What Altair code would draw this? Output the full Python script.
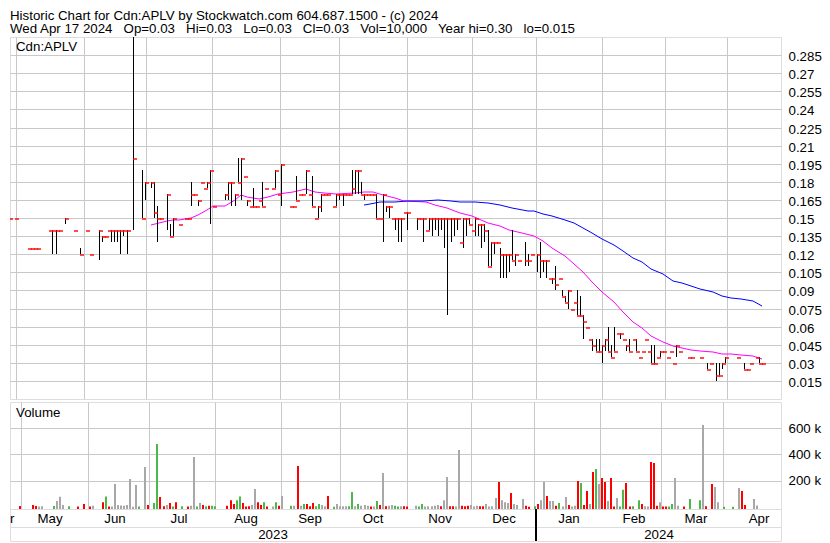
import altair as alt
import pandas as pd

FONT = "Liberation Sans, Arial, sans-serif"
NB = "\u00a0"
GRID = "#c8c8c8"

# ---------------- text ----------------
title_line1 = "Historic Chart for Cdn:APLV by Stockwatch.com 604.687.1500 - (c) 2024"
title_parts2 = ["Wed Apr 17 2024", "Op=0.03", "Hi=0.03", "Lo=0.03", "Cl=0.03",
                "Vol=10,000", "Year hi=0.30", "lo=0.015"]
symbol_label = "Cdn:APLV"
volume_label = "Volume"

# ---------------- price data (trading-day index) ----------------
price_day = [-2, 0, 4, 5, 6, 7, 11, 12, 13, 14, 16, 19, 21, 23, 24, 27, 28, 29, 30, 31,
             32, 33, 34, 35, 36, 38, 41, 42, 44, 45, 46, 47, 49, 50, 51, 53, 55, 56, 57, 58,
             59, 60, 61, 62, 63, 64, 68, 69, 70, 71, 72, 73, 74, 75, 76, 77, 78, 79, 80, 81,
             83, 84, 85, 86, 89, 90, 91, 92, 93, 94, 95, 96, 97, 98, 99, 100, 101, 103, 104, 105,
             106, 107, 108, 109, 110, 111, 112, 113, 114, 115, 116, 117, 118, 119, 120, 121, 122, 123, 124, 125,
             126, 127, 130, 131, 132, 133, 134, 135, 136, 137, 138, 139, 140, 141, 142, 143, 144, 145, 146, 147,
             148, 149, 150, 151, 152, 153, 154, 155, 156, 157, 158, 159, 160, 161, 162, 163, 165, 166, 167, 169,
             170, 171, 172, 173, 174, 175, 176, 177, 178, 179, 180, 181, 182, 183, 184, 185, 186, 187, 188, 189,
             190, 191, 192, 193, 194, 195, 196, 197, 198, 199, 200, 201, 202, 203, 204, 205, 206, 207, 208, 209,
             210, 211, 212, 213, 214, 215, 218, 219, 222, 224, 225, 227, 228, 229, 230, 234, 236, 237, 238, 240,
             241, 242]
price_high = [.15, .15, .125, .125, .125, .125, .14, .14, .14, .14, .15, .14, .125, .14, .12, .14, .135, .135, .14, .14,
              .14, .14, .14, .14, .14, .30, .19, .18, .18, .18, .16, .15, .17, .145, .15, .145, .15, .15, .18, .17,
              .165, .18, .175, .18, .19, .16, .17, .18, .18, .17, .20, .20, .185, .165, .16, .175, .16, .165, .18, .175,
              .175, .19, .17, .195, .16, .16, .185, .17, .17, .19, .17, .185, .15, .16, .17, .17, .17, .16, .17, .17,
              .17, .17, .17, .19, .19, .19, .18, .17, .17, .17, .17, .17, .15, .17, .16, .16, .15, .15, .15, .15,
              .155, .155, .15, .15, .15, .14, .15, .15, .15, .15, .15, .15, .15, .15, .15, .15, .13, .15, .15, .15,
              .14, .15, .145, .145, .145, .14, .13, .13, .13, .125, .12, .12, .12, .14, .12, .115, .13, .12, .12, .12,
              .13, .115, .115, .10, .10, .11, .10, .09, .085, .09, .075, .08, .09, .085, .07, .06, .05, .05, .05, .05,
              .045, .05, .06, .045, .06, .055, .055, .05, .045, .05, .05, .05, .035, .04, .05, .04, .045, .045, .035, .04,
              .04, .035, .04, .03, .045, .04, .035, .035, .035, .03, .03, .03, .03, .03, .035, .035, .03, .025, .03, .035,
              .035, .03]
price_low = [.15, .15, .125, .125, .125, .125, .14, .12, .12, .14, .145, .14, .12, .14, .12, .115, .13, .135, .14, .13,
             .13, .13, .12, .135, .12, .14, .15, .165, .175, .15, .13, .15, .14, .135, .135, .145, .15, .15, .16, .17,
             .16, .18, .175, .175, .145, .16, .165, .165, .16, .16, .18, .165, .185, .16, .16, .16, .16, .165, .16, .175,
             .175, .175, .17, .16, .16, .16, .165, .17, .17, .17, .17, .16, .15, .15, .155, .17, .17, .16, .16, .165,
             .16, .17, .17, .17, .17, .17, .17, .165, .17, .17, .17, .15, .15, .13, .155, .15, .15, .14, .13, .13,
             .155, .14, .14, .15, .13, .14, .14, .135, .14, .135, .14, .125, .07, .13, .135, .14, .13, .125, .135, .145,
             .14, .135, .135, .125, .13, .11, .11, .12, .13, .10, .10, .10, .105, .115, .11, .115, .11, .11, .12, .105,
             .10, .105, .10, .10, .095, .09, .10, .085, .08, .075, .075, .08, .07, .07, .05, .06, .05, .04, .04, .04,
             .03, .04, .04, .035, .04, .055, .05, .05, .04, .04, .05, .04, .035, .04, .05, .04, .03, .03, .035, .035,
             .04, .035, .04, .03, .035, .04, .035, .035, .035, .025, .03, .015, .02, .025, .03, .035, .025, .025, .03, .035,
             .03, .03]
price_close = [.15, .15, .125, .125, .125, .125, .14, .14, .14, .14, .15, .14, .12, .14, .12, .14, .135, .135, .14, .14,
               .14, .14, .14, .14, .14, .20, .15, .18, .18, .155, .15, .15, .17, .135, .15, .145, .15, .15, .17, .17,
               .165, .18, .175, .18, .19, .16, .17, .18, .18, .17, .18, .20, .185, .165, .16, .16, .16, .165, .16, .175,
               .175, .19, .17, .195, .16, .16, .165, .17, .17, .19, .17, .16, .15, .16, .17, .17, .17, .16, .17, .17,
               .17, .17, .17, .175, .19, .19, .17, .17, .17, .17, .17, .15, .15, .17, .16, .16, .15, .15, .15, .15,
               .155, .155, .15, .15, .15, .14, .15, .15, .15, .15, .15, .15, .15, .15, .15, .15, .13, .15, .15, .145,
               .14, .15, .145, .145, .14, .11, .13, .13, .13, .12, .12, .12, .12, .115, .12, .115, .115, .115, .12, .12,
               .115, .115, .115, .10, .10, .095, .10, .085, .08, .09, .075, .08, .07, .07, .065, .06, .05, .045, .04, .04,
               .045, .05, .04, .035, .04, .055, .055, .05, .045, .04, .05, .04, .035, .04, .05, .04, .03, .03, .035, .04,
               .04, .035, .04, .03, .045, .04, .035, .035, .035, .025, .03, .02, .02, .03, .035, .035, .025, .025, .03, .035,
               .03, .03]

# ---------------- moving averages ----------------
ma_fast_day = [44, 49, 51, 53, 55, 57, 59, 62, 64, 68, 71, 73, 75, 77, 79, 82, 85, 90, 94, 97,
               100, 104, 110, 113, 116, 119, 123, 126, 133, 136, 140, 144, 148, 153, 157, 160, 164, 168, 171, 174,
               178, 181, 184, 187, 190, 194, 197, 200, 203, 206, 210, 213, 216, 219, 222, 226, 229, 232, 235, 239, 242]
ma_fast_val = [0.1446, 0.1473, 0.148, 0.148, 0.1495, 0.150, 0.1527, 0.1568, 0.160, 0.160,
               0.165, 0.169, 0.1676, 0.1662, 0.1657, 0.1676, 0.170, 0.1718, 0.1743, 0.1718,
               0.1705, 0.170, 0.1705, 0.1718, 0.1718, 0.169, 0.1664, 0.1645, 0.1636, 0.1609,
               0.1582, 0.1541, 0.1514, 0.1459, 0.1432, 0.1399, 0.1377, 0.135, 0.131, 0.1255,
               0.1186, 0.112, 0.105, 0.097, 0.089, 0.0805, 0.0723, 0.064, 0.0586, 0.0524,
               0.047, 0.044, 0.042, 0.0405, 0.040, 0.0388, 0.0377, 0.0375, 0.0367, 0.0353, 0.0334]
ma_slow_day = [113, 115, 118, 123, 127, 132, 137, 141, 144, 149, 153, 157, 161, 166, 168, 171, 174, 178, 181, 184,
               187, 190, 194, 197, 200, 203, 206, 210, 213, 216, 219, 222, 226, 229, 232, 235, 239, 242]
ma_slow_val = [0.1604, 0.1615, 0.163, 0.1636, 0.164, 0.1645, 0.165, 0.1645, 0.1634, 0.163,
               0.1627, 0.161, 0.158, 0.156, 0.1555, 0.153, 0.1513, 0.1487, 0.1455, 0.142,
               0.1377, 0.1325, 0.128, 0.1227, 0.117, 0.1132, 0.108, 0.1036, 0.098, 0.096,
               0.0935, 0.0914, 0.0886, 0.0853, 0.0837, 0.083, 0.081, 0.077]

# ---------------- volume (thousands of shares) ----------------
vol_day = [0, 4, 5, 6, 7, 11, 12, 13, 14, 16, 19, 21, 23, 24, 27, 28, 29, 30, 31, 32,
           33, 34, 35, 36, 37, 38, 39, 41, 42, 44, 45, 46, 47, 48, 49, 50, 51, 53, 55, 56,
           57, 58, 59, 60, 61, 62, 63, 64, 68, 69, 70, 71, 72, 73, 74, 75, 76, 77, 78, 79,
           80, 81, 83, 84, 85, 86, 89, 90, 91, 92, 93, 94, 95, 96, 97, 98, 99, 100, 101, 103,
           104, 105, 106, 107, 108, 109, 110, 111, 112, 113, 114, 115, 116, 117, 118, 119, 120, 121, 122, 123,
           124, 125, 126, 127, 130, 131, 132, 133, 134, 135, 136, 137, 138, 139, 140, 141, 142, 143, 144, 145,
           146, 147, 148, 149, 150, 151, 152, 153, 154, 155, 156, 157, 158, 159, 160, 161, 162, 163, 165, 166,
           167, 169, 170, 171, 172, 173, 174, 175, 176, 177, 178, 179, 180, 181, 182, 183, 184, 185, 186, 187,
           188, 189, 190, 191, 192, 193, 194, 195, 196, 197, 198, 199, 200, 201, 203, 204, 205, 206, 207, 208,
           209, 210, 211, 212, 213, 214, 215, 216, 218, 220, 223, 224, 225, 227, 228, 229, 231, 234, 236, 237,
           238, 241, 242]
vol_k = [7, 14, 6, 3, 5, 7, 45, 78, 14, 5, 3, 22, 3, 8, 35, 80, 3, 3, 175, 14,
         10, 8, 14, 213, 2, 167, 3, 305, 14, 30, 480, 75, 5, 14, 30, 3, 35, 5, 3, 8,
         381, 3, 30, 14, 5, 8, 8, 5, 8, 50, 22, 50, 80, 30, 3, 5, 14, 137, 35, 14,
         35, 3, 3, 35, 8, 84, 8, 8, 312, 8, 22, 22, 5, 30, 5, 22, 14, 5, 84, 2,
         22, 5, 5, 5, 5, 114, 5, 22, 8, 14, 8, 3, 3, 45, 14, 259, 5, 8, 14, 8,
         3, 5, 5, 3, 8, 3, 22, 3, 5, 5, 8, 14, 5, 50, 228, 5, 5, 3, 434, 8,
         5, 8, 14, 3, 8, 5, 5, 22, 3, 5, 68, 190, 50, 35, 30, 106, 22, 14, 61, 8,
         2, 5, 22, 50, 190, 84, 45, 45, 8, 30, 3, 75, 14, 3, 8, 197, 182, 14, 121, 22,
         266, 289, 174, 220, 190, 45, 220, 3, 68, 3, 130, 182, 3, 5, 50, 22, 5, 3, 343, 335,
         8, 35, 3, 3, 3, 22, 220, 8, 3, 61, 50, 625, 5, 174, 151, 35, 2, 2, 144, 121,
         14, 61, 10]
vol_dir = list("dddnn" "unnnudddnd" "udnnnn" "nnnnnunduu" "ddndudu" "dnnundudu" "uddduuddd"
               "nnddudnud" "nundnuddduunn" "d" "unnnnuunun" "nndnudndnn" "uunddnuunn"
               "nnndnnddnn" "dddnnnddnn" "nndnnndnnn" "ddudnndnnd" "unndnndudd" "ndund" "dndd"
               "nuudduudnnd" "ddndduunnd" "uunddnnuu" "nddnndudndnu" "dnnd" "udnn")

# ---------------- axis / label data ----------------
price_ticks = [0.015, 0.03, 0.045, 0.06, 0.075, 0.09, 0.105, 0.12, 0.135, 0.15,
               0.165, 0.18, 0.195, 0.21, 0.225, 0.24, 0.255, 0.27, 0.285]
volume_ticks = [200000, 400000, 600000]
month_starts = [0.2, 22.3, 42.3, 63.8, 85.7, 105.0, 126.8, 148.1, 168.7, 190.2, 210.5, 230.7]
month_names = ["Apr", "May", "Jun", "Jul", "Aug", "Sep", "Oct", "Nov", "Dec", "Jan", "Feb", "Mar", "Apr"]
month_mid = [-3.7, 11.25, 32.3, 53.05, 74.75, 95.35, 115.9, 137.45, 158.4, 179.45, 200.35, 220.6, 240.9]
year_names = ["2023", "2024"]
year_mid = [83.5, 208.4]
year_break = [168.7]
X_DOMAIN = [-1.77, 248.1]

# ---------------- build ----------------
n = min(len(vol_day), len(vol_k), len(vol_dir))
W = 771
LBL = dict(labelFont=FONT, labelFontSize=13.3, labelColor="black")
xs = alt.Scale(domain=X_DOMAIN, nice=False, zero=False, round=True)
xgrid = alt.Axis(values=month_starts, grid=True, gridColor=GRID, gridWidth=1, labels=False,
                 ticks=False, domain=False, title=None, minExtent=0, maxExtent=0, offset=0,
                 labelPadding=0)

price_df = pd.DataFrame({"day": price_day, "high": price_high, "low": price_low, "close": price_close})
ma_df = pd.concat([
    pd.DataFrame({"day": ma_fast_day, "value": ma_fast_val, "series": "fast"}),
    pd.DataFrame({"day": ma_slow_day, "value": ma_slow_val, "series": "slow"}),
])
vol_df = pd.DataFrame({"day": vol_day[:n], "volume": [v * 1000 for v in vol_k[:n]], "dir": vol_dir[:n]})

ys = alt.Scale(domain=[0, 0.3], nice=False, zero=False, round=True)
yaxis = alt.Axis(orient="right", values=price_ticks, format=".3~f", grid=True, gridColor=GRID,
                 ticks=False, domain=False, labelPadding=7, labelOffset=1, labelOverlap=False,
                 labelBound=False, title=None, **LBL)

ma = alt.Chart(ma_df).mark_line(strokeWidth=1, clip=True).encode(
    x=alt.X("day:Q", scale=xs, axis=xgrid),
    y=alt.Y("value:Q", scale=ys, axis=yaxis),
    color=alt.Color("series:N", scale=alt.Scale(domain=["fast", "slow"], range=["#ff00ff", "#0000ff"]),
                    legend=None),
)
hl = alt.Chart(price_df).transform_filter("datum.high > datum.low").mark_rule(
    color="black", strokeWidth=1, xOffset=0.5, clip=True).encode(
    x=alt.X("day:Q", axis=xgrid), y=alt.Y("low:Q", axis=yaxis), y2="high:Q")
cl = alt.Chart(price_df).mark_tick(orient="horizontal", color="#ff0000", size=4, thickness=2,
                                   xOffset=2, yOffset=1, clip=True).encode(
    x=alt.X("day:Q", axis=xgrid), y=alt.Y("close:Q", axis=yaxis))
sym = alt.Chart(pd.DataFrame({"t": [symbol_label]})).mark_text(
    align="left", baseline="top", font=FONT, fontSize=13.3, color="black").encode(
    text="t:N", x=alt.value(6), y=alt.value(3))
price = alt.layer(ma, hl, cl, sym).properties(width=W, height=362)

vs = alt.Scale(domain=[-16000, 800000], nice=False, zero=False)
vaxis = alt.Axis(orient="right", values=volume_ticks, labelExpr="datum.value / 1000 + ' k'", grid=True,
                 gridColor=GRID, ticks=False, domain=False, labelPadding=7, labelOverlap=False, title=None,
                 **LBL)
vbars = alt.Chart(vol_df).transform_calculate(base="-16000").mark_bar(size=2).encode(
    x=alt.X("day:Q", scale=xs, axis=xgrid),
    y=alt.Y("volume:Q", scale=vs, axis=vaxis),
    y2="base:Q",
    color=alt.Color("dir:N", scale=alt.Scale(domain=["u", "d", "n"], range=["#4cb84c", "#ff0000", "#a8a8a8"]),
                    legend=None),
)
vtxt = alt.Chart(pd.DataFrame({"t": [volume_label]})).mark_text(
    align="left", baseline="top", font=FONT, fontSize=13.3, color="black").encode(
    text="t:N", x=alt.value(6), y=alt.value(4))
volume = alt.layer(vbars, vtxt).properties(width=W, height=107)

mdf = pd.DataFrame({"name": month_names, "mid": month_mid})
ydf = pd.DataFrame({"name": year_names, "mid": year_mid})
bdf = pd.DataFrame({"b": year_break})
divider = alt.Chart(bdf).mark_rule(color="black", strokeWidth=2).encode(
    x=alt.X("b:Q", scale=xs, axis=None))
months = alt.layer(
    alt.Chart(mdf).mark_text(font=FONT, fontSize=13.3, color="black", baseline="middle", clip=True).encode(
        x=alt.X("mid:Q", scale=xs, axis=None), text="name:N", y=alt.value(9.5)),
    divider,
).properties(width=W, height=18)
years = alt.layer(
    alt.Chart(ydf).mark_text(font=FONT, fontSize=13.3, color="black", baseline="middle", clip=True).encode(
        x=alt.X("mid:Q", scale=xs, axis=None), text="name:N", y=alt.value(7.5)),
    divider,
).properties(width=W, height=14)

lower = alt.vconcat(volume, months, years, spacing=0, bounds="flush")
chart = alt.vconcat(
    price, lower, spacing=3, bounds="flush",
    title=alt.TitleParams(text=[title_line1, (NB * 2 + " ").join(title_parts2)], anchor="start",
                          frame="group", font=FONT, fontSize=13.3, fontWeight="normal", color="black",
                          lineHeight=13.5, offset=1, baseline="top"),
).resolve_scale(color="independent").properties(
    padding={"left": 1, "top": 0, "right": 0, "bottom": 0}
).configure_view(
    stroke="black", strokeWidth=2
).configure_axis(labelFont=FONT, labelFontSize=13.3, labelColor="black", labelOverlap=False
).configure(background="white")

chart.save("out.html", embed_options={"renderer": "svg", "actions": False})
